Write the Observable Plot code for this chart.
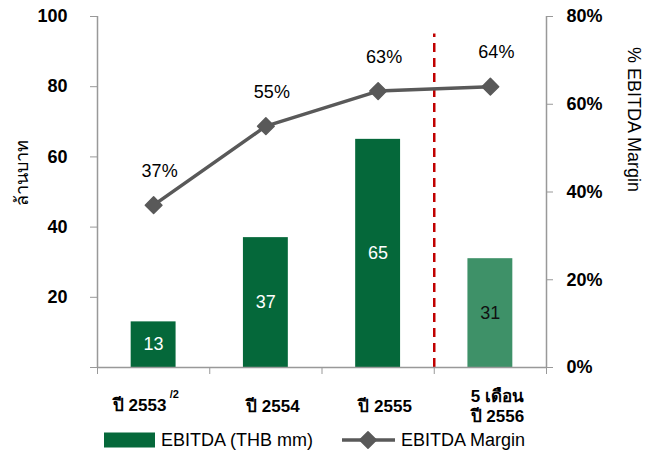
<!DOCTYPE html>
<html><head><meta charset="utf-8">
<script src="https://cdn.jsdelivr.net/npm/d3@7"></script>
<script src="https://cdn.jsdelivr.net/npm/@observablehq/plot@0.6"></script>
<style>
body{margin:0;background:#fff;font-family:"Liberation Sans",Arial,sans-serif}
#legend,svg{display:block}
</style>
</head><body><div id="chart"></div><script>
const categories = ["ปี 2553", "ปี 2554", "ปี 2555", "5 เดือน\nปี 2556"];
const ebitda = [13, 37, 65, 31];          // THB mm
const margin = [37, 55, 63, 64];          // % EBITDA margin
const leftTicks = [0, 20, 40, 60, 80, 100];
const rightTicks = [0, 20, 40, 60, 80];   // percent
const footnote = "/2";
const legendLabels = ["EBITDA (THB mm)", "EBITDA Margin"];

const dark = "#05683a", light = "#3e9168", grey = "#595959", axisC = "#999";
const rows = categories.map((c, i) => ({i, c, e: ebitda[i], m: margin[i]}));
const toLeft = m => m * 100 / 80;

const chart = Plot.plot({
  width: 651, height: 428,
  marginLeft: 97, marginRight: 105, marginTop: 16, marginBottom: 61,
  style: {fontFamily: '"Liberation Sans", Arial, sans-serif', fontSize: "18px", color: "#000", background: "#fff"},
  x: {domain: [0, 4], axis: null},
  y: {domain: [0, 100], axis: null},
  marks: [
    Plot.rectY(rows, {x1: d => d.i + 0.3, x2: d => d.i + 0.7, y1: 0, y2: "e", fill: d => d.i === 3 ? light : dark}),
    Plot.text(rows, {x: d => d.i + 0.5, y: d => d.e / 2, text: d => String(d.e), fill: d => d.i === 3 ? "#111" : "#fff", fontSize: 18}),
    Plot.ruleX([3], {y1: 0, y2: 95, stroke: "#c00000", strokeWidth: 2.5, strokeDasharray: "9,6"}),
    Plot.ruleX([0, 4], {stroke: axisC, strokeWidth: 1.5}),
    Plot.ruleY([0], {stroke: axisC, strokeWidth: 1.5}),
    Plot.axisY(leftTicks, {anchor: "left", tickSize: 7, tickPadding: 23, stroke: axisC, fill: "#000", fontSize: 18, fontWeight: "bold", tickFormat: d => d === 0 ? "" : String(d), label: null}),
    Plot.axisY(rightTicks.map(toLeft), {anchor: "right", tickSize: 6, tickPadding: 14, stroke: axisC, fill: "#000", fontSize: 18, fontWeight: "bold", tickFormat: d => Math.round(d * 0.8) + "%", label: null}),
    Plot.axisX([0, 1, 2, 3, 4], {anchor: "bottom", tickSize: 7, stroke: axisC, tickFormat: () => "", label: null}),
    Plot.text(rows.slice(0, 1), {x: d => d.i + 0.5, y: 0, text: "c", dy: 38, dx: -14, fontSize: 17, fontWeight: "bold", lineAnchor: "middle"}),
    Plot.text(rows.slice(1), {x: d => d.i + 0.5, y: 0, text: "c", dy: 38, dx: 7, fontSize: 17, fontWeight: "bold", lineAnchor: "middle", lineHeight: 1.15}),
    Plot.text([footnote], {x: 0.5, y: 0, text: d => d, dx: 16, dy: 27, textAnchor: "start", fontSize: 11, fontWeight: "bold"}),
    Plot.line(rows, {x: d => d.i + 0.5, y: d => toLeft(d.m), stroke: grey, strokeWidth: 3.5}),
    Plot.dot(rows, {x: d => d.i + 0.5, y: d => toLeft(d.m), symbol: "diamond2", r: 7.5, fill: grey, stroke: grey, strokeWidth: 1.5, strokeLinejoin: "round"}),
    Plot.text(rows, {x: d => d.i + 0.5, y: d => toLeft(d.m), text: d => d.m + "%", dy: -34, dx: 6, fontSize: 18}),
    Plot.text(["ล้านบาท"], {frameAnchor: "left", dx: -75, dy: 14, rotate: -90, fontSize: 18}),
    Plot.text(["% EBITDA Margin"], {frameAnchor: "right", dx: 87, dy: 0, rotate: 90, fontSize: 18})
  ]
});
document.getElementById("chart").appendChild(chart);

// legend below the svg
const lg = d3.create("svg").attr("id", "legend").attr("width", 651).attr("height", 30)
  .style("font-family", '"Liberation Sans", Arial, sans-serif').style("font-size", "18px");
const cy = 12;
lg.append("rect").attr("x", 104).attr("y", cy - 7.5).attr("width", 51).attr("height", 15).attr("fill", dark);
lg.append("text").attr("x", 161).attr("y", cy).attr("dy", "0.35em").text(legendLabels[0]);
lg.append("line").attr("x1", 342).attr("x2", 395).attr("y1", cy).attr("y2", cy).attr("stroke", grey).attr("stroke-width", 3.5);
lg.append("path").attr("d", d3.symbol(d3.symbolDiamond2, Math.PI * 7.5 * 7.5)()).attr("transform", `translate(368,${cy})`)
  .attr("fill", grey).attr("stroke", grey).attr("stroke-width", 1.5).attr("stroke-linejoin", "round");
lg.append("text").attr("x", 401).attr("y", cy).attr("dy", "0.35em").text(legendLabels[1]);
document.getElementById("chart").appendChild(lg.node());
</script></body></html>
